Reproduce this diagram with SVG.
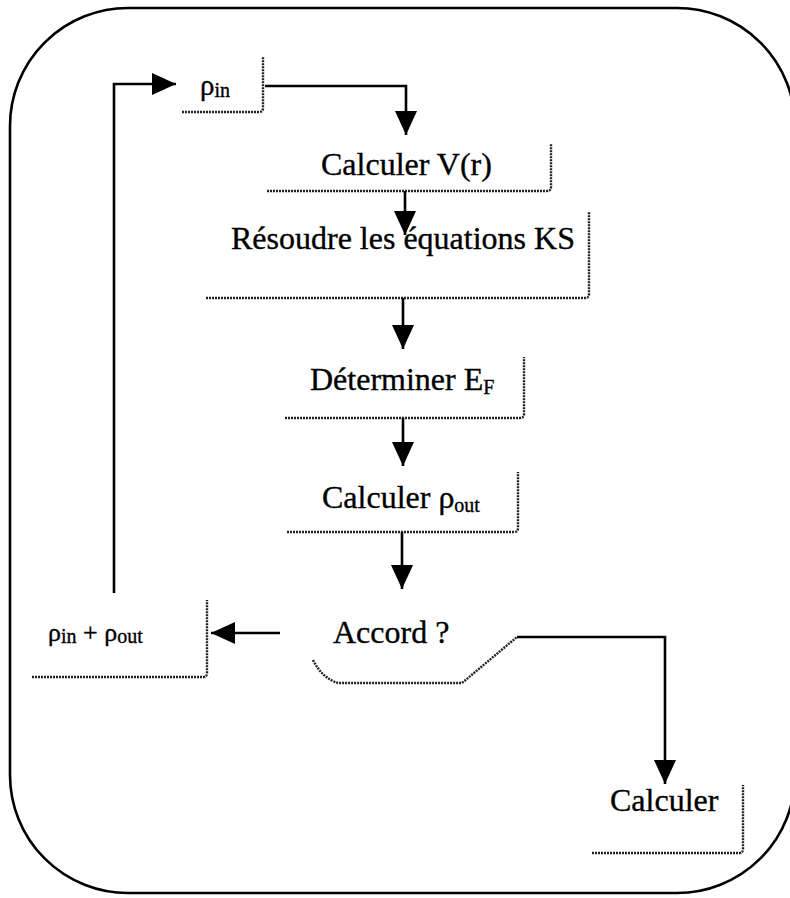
<svg xmlns="http://www.w3.org/2000/svg" width="790" height="898" viewBox="0 0 790 898">
<style>
text{font-family:"Liberation Serif","Times New Roman",serif;fill:#000;stroke:#000;stroke-width:0.35}
.t{font-size:32px}
.r{font-size:29px}
.r2{font-size:26px}
.sub{font-size:20px}
.box{fill:none;stroke:#222;stroke-width:2.4;stroke-dasharray:2 1}
.c{fill:none;stroke:#000;stroke-width:2.6}
</style>
<defs>
<marker id="ah" markerUnits="userSpaceOnUse" markerWidth="24" markerHeight="22" refX="24" refY="11" orient="auto" viewBox="0 0 24 22">
<path d="M0,0 L24,11 L0,22 z" fill="#000"/>
</marker>
</defs>
<rect x="10" y="8" width="785" height="885" rx="118" ry="118" fill="none" stroke="#000" stroke-width="2.6"/>
<g id="n-rhoin">
<path class="box" d="M182,112 H259 Q263,112 263,108 V57"/>
<text class="r" x="200" y="95">ρ<tspan class="sub" dy="2">in</tspan></text>
</g>
<g id="n-calcV">
<path class="box" d="M267,191 H547 Q551,191 551,187 V144"/>
<text class="t" x="321" y="175">Calculer V(r)</text>
</g>
<g id="n-ks">
<path class="box" d="M206,298 H585 Q589,298 589,294 V212"/>
<text class="t" x="231" y="249">Résoudre les équations KS</text>
</g>
<g id="n-ef">
<path class="box" d="M285,418 H520 Q524,418 524,414 V357"/>
<text class="t" x="310" y="390">Déterminer E<tspan class="sub" dy="4">F</tspan></text>
</g>
<g id="n-rhoout">
<path class="box" d="M287,532 H514 Q518,532 518,528 V472"/>
<text class="t" x="322" y="508">Calculer ρ<tspan class="sub" dy="4">out</tspan></text>
</g>
<g id="n-accord">
<path class="box" d="M313,660 Q322,678 338,683 H462 L517,637" stroke-width="1.8"/>
<text class="t" x="333" y="643">Accord ?</text>
</g>
<g id="n-mix">
<path class="box" d="M32,677 H203 Q207,677 207,673 V600"/>
<text class="r2" x="48" y="641">ρ<tspan class="sub" dy="2">in</tspan><tspan dy="-2"> + ρ</tspan><tspan class="sub" dy="2">out</tspan></text>
</g>
<g id="n-calc">
<path class="box" d="M592,853 H739 Q743,853 743,849 V785"/>
<text class="t" x="610" y="811">Calculer</text>
</g>
<g id="connectors">
<path class="c" d="M114,593 V84 H176" marker-end="url(#ah)"/>
<path class="c" d="M265,86 H406 V135" marker-end="url(#ah)"/>
<path class="c" d="M405,191 V235" marker-end="url(#ah)"/>
<path class="c" d="M403,298 V349" marker-end="url(#ah)"/>
<path class="c" d="M403,418 V466" marker-end="url(#ah)"/>
<path class="c" d="M402,532 V589" marker-end="url(#ah)"/>
<path class="c" d="M280,633 H211" marker-end="url(#ah)"/>
<path class="c" d="M517,637 H665 V784" marker-end="url(#ah)"/>
</g>
</svg>
